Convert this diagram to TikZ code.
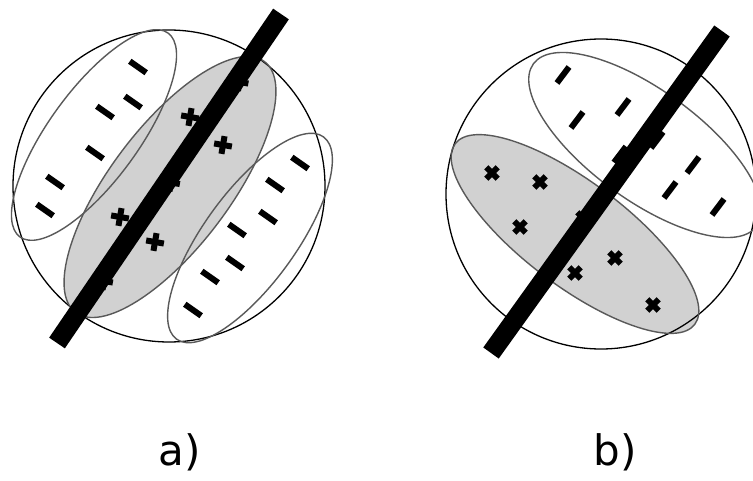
\documentclass[tikz,border=0pt]{standalone}
\usepackage{fontspec}
\setmainfont{DejaVu Sans}
\begin{document}
\begin{tikzpicture}[x=1pt,y=-1pt,
  ring/.style={draw=black,line width=1.3pt},
  outl/.style={draw=black!65,line width=1.4pt},
  grayfill/.style={fill=black!18},
  bar/.style={line width=19pt,draw=black},
  dashmark/.pic={\fill[black] (-10,-3) rectangle (10,3);},
  plusmark/.pic={\fill[black] (-9,-3) rectangle (9,3); \fill[black] (-3,-9) rectangle (3,9);},
  crossmark/.pic={\fill[black] (-8,-3) rectangle (8,3); \fill[black] (-3,-8) rectangle (3,8);},
  lbl/.style={font=\fontsize{42}{50}\selectfont,anchor=base,inner sep=0pt}]
\fill[white] (0,0) rectangle (753,481);
\useasboundingbox (0,0) rectangle (753,481);

% ---------- panel a ----------
\coordinate (ca) at (169,186);
\fill[grayfill,rotate around={53:(170,187)}] (170,187) ellipse [x radius=157,y radius=60];
\draw[ring] (ca) circle [radius=156];
\draw[outl,rotate around={53:(170,187)}] (170,187) ellipse [x radius=157,y radius=60];
\draw[outl,rotate around={54:(94,135)}] (94,135) ellipse [x radius=126,y radius=45];
\draw[outl,rotate around={54:(250,238)}] (250,238) ellipse [x radius=125,y radius=46];
\foreach \p in {(138,67),(133,102),(105,112),(95,153),(55,182),(45,210),
                (300,163),(275,185),(268,217),(237,230),(235,263),(210,277),(193,310)}
  \pic[rotate=-35] at \p {dashmark};
\foreach \p in {(190,117),(223,145),(120,217),(155,242),(239.5,82),(104,281),(171,182.5)}
  \pic[rotate=-10] at \p {plusmark};
\coordinate (a1) at (57,343);
\coordinate (a2) at (281,14);
\draw[bar] (a1) -- (a2);
\node[lbl] (la) at (180,465) {a)};

% ---------- panel b ----------
\coordinate (cb) at (601,194);
\fill[grayfill,rotate around={-37:(575,234)}] (575,234) ellipse [x radius=150,y radius=52];
\draw[ring] (cb) circle [radius=155];
\draw[outl,rotate around={-37:(575,234)}] (575,234) ellipse [x radius=150,y radius=52];
\draw[outl,rotate around={-36:(645,145)}] (645,145) ellipse [x radius=138,y radius=55];
\foreach \p in {(563,75),(577,120),(623,107),(693,165),(670,190),(718,207),(657,140),(620,154.5)}
  \pic[rotate=53] at \p {dashmark};
\foreach \p in {(492,173),(540,182),(520,227),(615,258),(575,273),(653,305),(583,218)}
  \pic[rotate=45] at \p {crossmark};
\coordinate (b1) at (491,353);
\coordinate (b2) at (722,31);
\draw[bar] (b1) -- (b2);
\node[lbl] (lb) at (615,465) {b)};
\end{tikzpicture}
\end{document}
